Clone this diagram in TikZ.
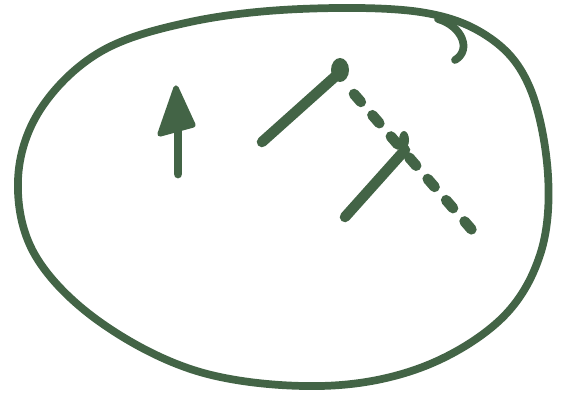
\documentclass[tikz,border=0pt]{standalone}
\usepackage{tikz}

\definecolor{ink}{HTML}{436446}

\tikzset{
  pen/.style={draw=ink, line width=4.4pt, line cap=round, line join=round},
  thickpen/.style={pen, line width=6pt},
  dotpen/.style={thickpen, dash pattern=on 6pt off 10pt},
}

\begin{document}
\begin{tikzpicture}[x=0.02cm, y=-0.02cm]
  \useasboundingbox (0,0) rectangle (565,395);

  % the loop and its hook
  \draw[pen] plot[smooth cycle, tension=0.6] coordinates {
    (300,9) (420,12) (490,38) (530,88) (548,175) (540,255) (500,320)
    (420,368) (320,386) (200,372) (100,322) (35,255) (18,180) (40,110)
    (100,52) (190,22)};
  \coordinate (hookA) at (438,19);
  \coordinate (hookB) at (455,60);
  \draw[pen] (hookA) .. controls (462,26) and (472,50) .. (hookB);

  % up arrow
  \coordinate (up0) at (178,174);
  \coordinate (up1) at (178,110);
  \coordinate (tip) at (176,88);
  \draw[thickpen, line width=5pt] (up0) -- (up1);
  \filldraw[pen, line width=3pt, fill=ink] (tip) -- (160,134) -- (193,125) -- cycle;

  % two slanted strokes
  \coordinate (a0) at (262,142);
  \coordinate (a1) at (338,74);
  \coordinate (b0) at (345,217);
  \coordinate (b1) at (405,150);
  \coordinate (d1) at (472,230);
  \draw[thickpen] (a0) -- (a1);
  \fill[ink] (340,70) ellipse (9 and 12);
  \draw[thickpen] (b0) -- (b1);
  \fill[ink] (404,140) ellipse (5 and 9);
  \draw[dotpen] (354,94) -- (d1);
\end{tikzpicture}
\end{document}
